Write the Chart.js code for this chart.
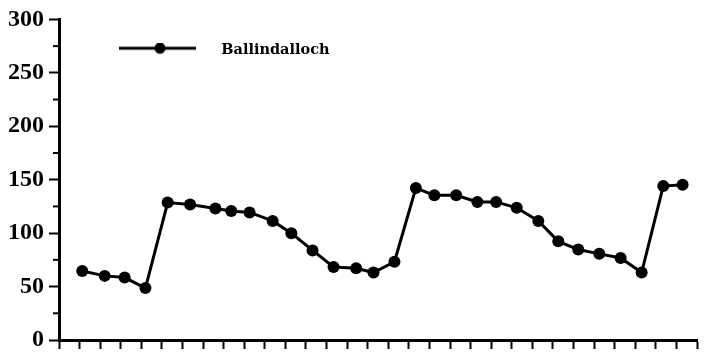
<!DOCTYPE html>
<html>
<head>
<meta charset="utf-8">
<script src="https://cdn.jsdelivr.net/npm/chart.js@4"></script>
<style>
  html, body { margin: 0; padding: 0; background: #fff; }
</style>
</head>
<body>
<canvas id="ballindalloch" width="706" height="363"></canvas>
<script>
// sample positions along the (unlabelled) x axis
var sampleX = [1.13, 2.22, 3.19, 4.2, 5.28, 6.37, 7.6, 8.37, 9.26, 10.38,
               11.29, 12.32, 13.34, 14.44, 15.28, 16.3, 17.34, 18.24, 19.3, 20.33,
               21.24, 22.24, 23.29, 24.26, 25.23, 26.25, 27.29, 28.31, 29.36, 30.3];
var ballindalloch = [64.6, 60.0, 58.4, 48.6, 128.6, 126.7, 123.1, 120.7, 119.4, 111.4,
                     100.0, 83.8, 68.3, 67.1, 63.1, 73.2, 142.2, 135.4, 135.4, 129.2,
                     129.2, 123.7, 111.4, 92.3, 84.6, 80.6, 76.7, 63.1, 144.0, 145.2];
var yTicks = [0, 50, 100, 150, 200, 250, 300];
var yMinorTicks = [25, 75, 125, 175, 225, 275];
var seriesName = 'Ballindalloch';

var points = sampleX.map(function(x, i) { return { x: x, y: ballindalloch[i] }; });

// legend swatch: line with a dot, like the printed key
var swatch = document.createElement('canvas');
swatch.width = 112;
swatch.height = 14;
var sctx = swatch.getContext('2d');
sctx.strokeStyle = '#000';
sctx.lineWidth = 3;
sctx.beginPath();
sctx.moveTo(17, 5);
sctx.lineTo(94, 5);
sctx.stroke();
sctx.fillStyle = '#000';
sctx.beginPath();
sctx.arc(58, 5, 5.5, 0, Math.PI * 2);
sctx.fill();

var minorTicks = {
    id: 'minorTicks',
    afterDraw: function(chart) {
        var y = chart.scales.y;
        var ctx = chart.ctx;
        ctx.save();
        ctx.strokeStyle = '#000';
        ctx.lineWidth = 2;
        yMinorTicks.forEach(function(v) {
            var py = y.getPixelForValue(v);
            ctx.beginPath();
            ctx.moveTo(y.right - 6, py);
            ctx.lineTo(y.right, py);
            ctx.stroke();
        });
        ctx.restore();
    }
};

Chart.defaults.color = '#000';
var ctx = document.getElementById('ballindalloch');
var myChart = new Chart(ctx, {
    type: 'line',
    plugins: [minorTicks],
    data: {
        datasets: [
            {
                label: seriesName,
                data: points,
                borderColor: '#000',
                backgroundColor: '#000',
                borderWidth: 3,
                pointRadius: 6,
                pointBackgroundColor: '#000',
                pointBorderWidth: 0,
                tension: 0,
                clip: false,
            }
        ]
    },
    options: {
        responsive: false,
        animation: false,
        devicePixelRatio: 1,
        layout: {
            padding: { top: 15, right: 9, bottom: 0, left: 0 }
        },
        plugins: {
            legend: {
                position: 'chartArea',
                align: 'start',
                labels: {
                    usePointStyle: true,
                    pointStyle: swatch,
                    pointStyleWidth: 112,
                    padding: 43,
                    color: '#000',
                    font: { family: 'DejaVu Serif', size: 14.5, weight: 'bold' },
                },
            },
            tooltip: { enabled: false },
        },
        scales: {
            x: {
                type: 'linear',
                min: 0,
                max: 31,
                ticks: {
                    stepSize: 1,
                    display: false,
                },
                grid: {
                    drawOnChartArea: false,
                    tickLength: 9,
                    tickWidth: 2,
                    tickColor: '#000',
                },
                border: { color: '#000', width: 3 },
                afterFit: function(scale) { scale.height = 23; },
            },
            y: {
                type: 'linear',
                min: 0,
                max: 300,
                afterBuildTicks: function(scale) {
                    scale.ticks = yTicks.map(function(v) { return { value: v }; });
                },
                ticks: {
                    autoSkip: false,
                    padding: 5,
                    color: '#000',
                    font: { family: 'Liberation Serif', size: 24, weight: 'bold' },
                },
                grid: {
                    drawOnChartArea: false,
                    tickLength: 10,
                    tickWidth: 2,
                    tickColor: '#000',
                },
                border: { color: '#000', width: 3 },
                afterFit: function(scale) { scale.width = 59; },
            },
        },
    },
});
</script>
</body>
</html>
